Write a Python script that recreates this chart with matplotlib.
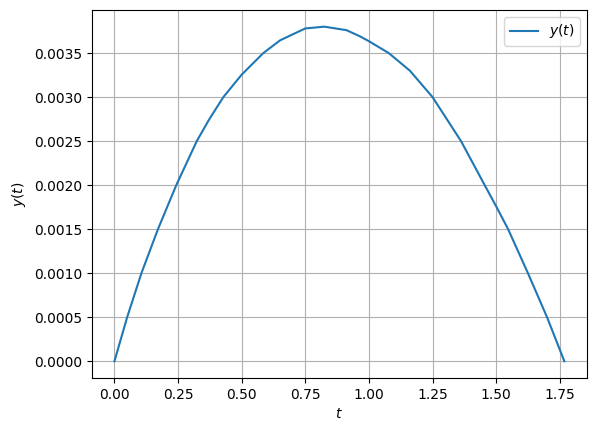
import matplotlib
matplotlib.use('Agg')
import matplotlib.pyplot as plt

# values
t = [0.0, 0.05, 0.106, 0.171, 0.243, 0.3235, 0.373, 0.428, 0.5, 0.585,
     0.651, 0.75, 0.825, 0.912, 0.965, 1.0, 1.078, 1.161, 1.25, 1.362,
     1.455, 1.5, 1.547, 1.625, 1.700, 1.768]
y = [0.0, 0.0005, 0.0010, 0.0015, 0.0020, 0.0025, 0.00275, 0.0030, 0.003255, 0.0035,
     0.003645, 0.00378, 0.00380, 0.00376, 0.00369, 0.003635, 0.0035, 0.00330, 0.0030, 0.0025,
     0.0020, 0.00176, 0.0015, 0.0010, 0.0005, 0.0]

fig, ax = plt.subplots(figsize=(5.97, 4.32), dpi=100)
fig.subplots_adjust(left=0.154, right=0.983, top=0.977, bottom=0.125)

ax.plot(t, y, label='$y(t)$')
ax.set_xlabel('$t$')
ax.set_ylabel('$y(t)$')
ax.grid(True)
ax.legend(loc='upper right')

fig.savefig('out.png', dpi=100)
